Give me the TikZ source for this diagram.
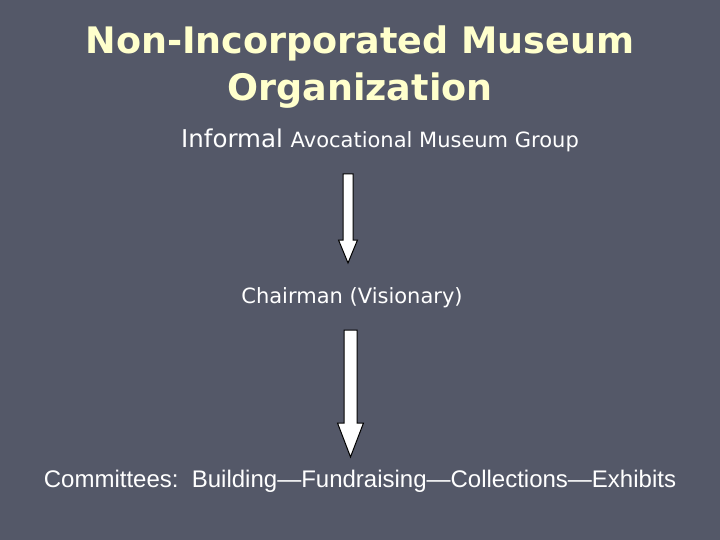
\documentclass[tikz,border=0pt]{standalone}
\usepackage{fontspec}
\setmainfont{DejaVu Sans}
\newfontfamily\arialfont{Liberation Sans}
\usetikzlibrary{calc}
\definecolor{slidebg}{HTML}{545868}
\definecolor{titleyellow}{HTML}{FFFFCC}
\tikzset{
    slidetitle/.style={text=titleyellow, align=center, inner sep=0pt,
        font=\fontsize{36.5}{47}\selectfont\bfseries},
    slidetext/.style={text=white, inner sep=0pt},
    blockarr/.style={draw=black, fill=white, line width=1pt, line join=miter},
}
% block arrow: start, tip, shaft half width, head half width, head length
\newcommand{\blockarrow}[5]{%
    \draw[blockarr] ($(#1)+(-#3,0)$) -- ($(#2)+(-#3,-#5)$) -- ($(#2)+(-#4,-#5)$)
        -- (#2) -- ($(#2)+(#4,-#5)$) -- ($(#2)+(#3,-#5)$) -- ($(#1)+(#3,0)$) -- cycle;}

\begin{document}
\begin{tikzpicture}[x=1pt,y=-1pt]
    \useasboundingbox (0,0) rectangle (720,540);
    \fill[slidebg] (0,0) rectangle (720,540);
    \node[slidetitle, anchor=base] (title) at (360,101) {Non-Incorporated Museum\\Organization};
    \node[slidetext, anchor=base west] (group) at (181,148)
        {\fontsize{24.5}{28}\selectfont Informal \fontsize{21}{24}\selectfont Avocational Museum Group};
    \node[slidetext, anchor=base] (chair) at (352,303)
        {\fontsize{21}{24}\selectfont Chairman (Visionary)};
    \node[slidetext, anchor=base] (cmte) at (360,487)
        {\arialfont\fontsize{24}{28}\selectfont Committees:\ \ Building—Fundraising—Collections—Exhibits};
    \coordinate (a1start) at (348,174);
    \coordinate (a1tip) at (348,263);
    \coordinate (a2start) at (350.5,330);
    \coordinate (a2tip) at (350.5,457);
    \blockarrow{a1start}{a1tip}{5}{9.5}{23}
    \blockarrow{a2start}{a2tip}{6.5}{13}{34}
\end{tikzpicture}
\end{document}
